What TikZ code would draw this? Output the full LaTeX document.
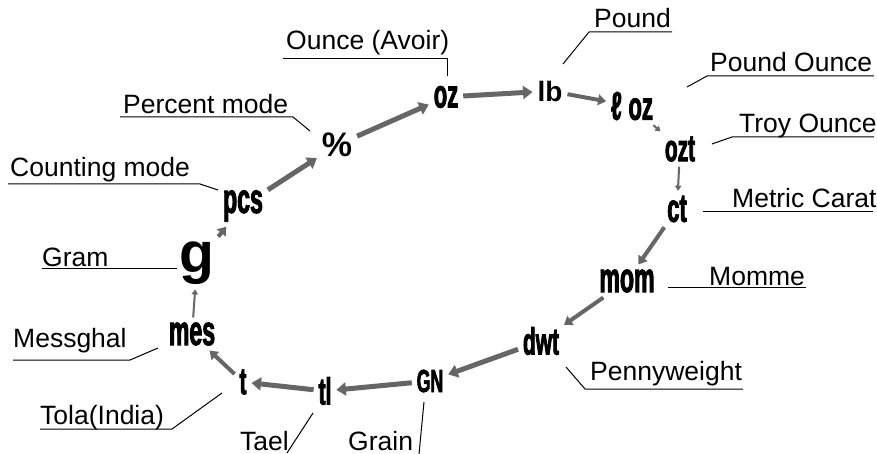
\documentclass[tikz,border=0pt]{standalone}
\usepackage{fontspec}
\setmainfont{Liberation Sans}
\newfontfamily\unitfont[FakeStretch=0.55,FakeBold=2]{Liberation Sans}
\usetikzlibrary{arrows.meta}

\tikzset{
  sym/.style={font=\unitfont\bfseries\fontsize{#1}{#1}\selectfont, inner sep=1pt, outer sep=4pt},
  widesym/.style={font=\bfseries\fontsize{#1}{#1}\selectfont, inner sep=1pt, outer sep=4pt},
  unitname/.style={font=\fontsize{26.5}{30}\selectfont, inner sep=0pt, anchor=base west},
  flow/.style={draw=black!60, line width=#1, -{Triangle[length=2pt 1.5, width=2pt 2.2]}},
  flow/.default=5pt,
  leader/.style={line width=1pt}
}

\begin{document}
\begin{tikzpicture}[x=1pt,y=-1pt]

\useasboundingbox (0,0) rectangle (877,454);

% the ring of unit symbols
\node[sym=40] (oz) at (446,97) {oz};
\node[widesym=28] (lb) at (550,91) {lb};
\node[sym=40] (loz) at (632,106) {ℓ\,oz};
\node[sym=38] (ozt) at (680,149) {ozt};
\node[sym=40] (ct) at (677,209) {ct};
\node[sym=42] (mom) at (627,281) {mom};
\node[sym=38] (dwt) at (541,341) {dwt};
\node[sym=32] (GN) at (430,381) {GN};
\node[sym=38] (tl) at (325,391) {tl};
\node[sym=38] (t) at (243,382) {t};
\node[sym=42] (mes) at (192,334) {mes};
\node[widesym=57] (g) at (197,263) {g};
\node[sym=42] (pcs) at (243,206) {pcs};
\node[widesym=34] (pct) at (337,145) {\%};

\foreach \a/\b in {pct/oz,oz/lb,GN/tl,tl/t,pcs/pct,dwt/GN}{
  \draw[flow] (\a) -- (\b);
}
\foreach \a/\b in {lb/loz,ct/mom,mom/dwt,t/mes,g/pcs}{
  \draw[flow=4pt] (\a) -- (\b);
}
\foreach \a/\b in {loz/ozt,ozt/ct,mes/g}{
  \draw[flow=2pt] (\a) -- (\b);
}

% names and leaders
\node[unitname] (ounceT) at (286,50) {Ounce (Avoir)};
\coordinate (ounceA) at (283,59);
\coordinate (ounceB) at (447,59);
\coordinate (ounceC) at (447,76);
\draw[leader] (ounceA) -- (ounceB) -- (ounceC);

\node[unitname] (poundT) at (594,28) {Pound};
\coordinate (poundA) at (672,32);
\coordinate (poundB) at (589,32);
\coordinate (poundC) at (563,64);
\draw[leader] (poundA) -- (poundB) -- (poundC);

\node[unitname] (lozT) at (710,72) {Pound Ounce};
\coordinate (lozA) at (874,76);
\coordinate (lozB) at (707,76);
\coordinate (lozC) at (687,87);
\draw[leader] (lozA) -- (lozB) -- (lozC);

\node[unitname] (oztT) at (739,133) {Troy Ounce};
\coordinate (oztA) at (874,137);
\coordinate (oztB) at (732,137);
\coordinate (oztC) at (712,144);
\draw[leader] (oztA) -- (oztB) -- (oztC);

\node[unitname] (ctT) at (732,208) {Metric Carat};
\coordinate (ctA) at (873,212);
\coordinate (ctB) at (703,212);
\draw[leader] (ctA) -- (ctB);

\node[unitname] (momT) at (709,285) {Momme};
\coordinate (momA) at (806,287);
\coordinate (momB) at (668,287);
\draw[leader] (momA) -- (momB);

\node[unitname] (dwtT) at (590,380) {Pennyweight};
\coordinate (dwtA) at (743,389);
\coordinate (dwtB) at (585,389);
\coordinate (dwtC) at (566,367);
\draw[leader] (dwtA) -- (dwtB) -- (dwtC);

\node[unitname] (GNT) at (348,450) {Grain};
\coordinate (GNA) at (419,454);
\coordinate (GNB) at (424,402);
\draw[leader] (GNA) -- (GNB);

\node[unitname] (tlT) at (240,450) {Tael};
\coordinate (tlA) at (287,453);
\coordinate (tlB) at (313,413);
\draw[leader] (tlA) -- (tlB);

\node[unitname] (tT) at (40,424) {Tola(India)};
\coordinate (tA) at (40,429);
\coordinate (tB) at (172,429);
\coordinate (tC) at (222,393);
\draw[leader] (tA) -- (tB) -- (tC);

\node[unitname] (mesT) at (13,347) {Messghal};
\coordinate (mesA) at (13,360);
\coordinate (mesB) at (130,360);
\coordinate (mesC) at (158,348);
\draw[leader] (mesA) -- (mesB) -- (mesC);

\node[unitname] (gT) at (42,266) {Gram};
\coordinate (gA) at (42,268);
\coordinate (gB) at (177,268);
\draw[leader] (gA) -- (gB);

\node[unitname] (pcsT) at (10,177) {Counting mode};
\coordinate (pcsA) at (8,184);
\coordinate (pcsB) at (200,184);
\coordinate (pcsC) at (218,190);
\draw[leader] (pcsA) -- (pcsB) -- (pcsC);

\node[unitname] (pctT) at (123,114) {Percent mode};
\coordinate (pctA) at (120,117);
\coordinate (pctB) at (293,117);
\coordinate (pctC) at (310,131);
\draw[leader] (pctA) -- (pctB) -- (pctC);

\end{tikzpicture}
\end{document}
